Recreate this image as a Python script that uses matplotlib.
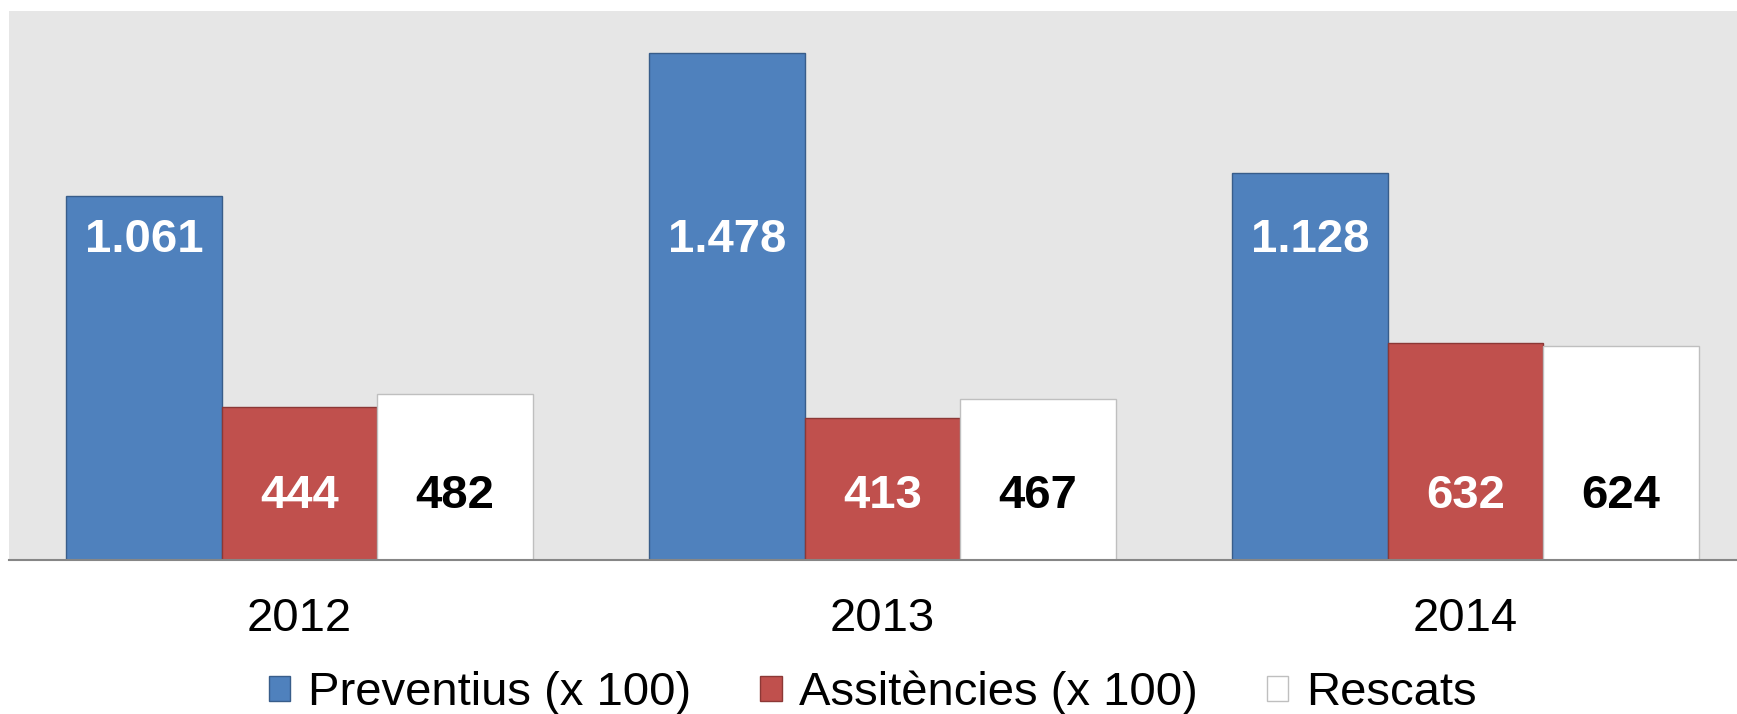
import matplotlib
matplotlib.use("Agg")
import matplotlib.pyplot as plt
import numpy as np
from matplotlib.patches import Patch

plt.rcParams['font.family'] = ['Liberation Sans', 'DejaVu Sans']

years = ["2012", "2013", "2014"]
preventius = [1061, 1478, 1128]      # (x 100)
assistencies = [444, 413, 632]       # (x 100)
rescats = [482, 467, 624]
series_names = ["Preventius (x 100)", "Assitències (x 100)", "Rescats"]

def fmt(v):
    return f"{v:,}".replace(",", ".")

W, H = 1737, 714
fig = plt.figure(figsize=(W / 100, H / 100), dpi=100)
ax_left, ax_right, ax_top, ax_bottom = 9, 1737, 11, 559.5
ax = fig.add_axes([ax_left / W, (H - ax_bottom) / H, (ax_right - ax_left) / W, (ax_bottom - ax_top) / H])
ax.set_facecolor("#E6E6E6")

x = np.arange(len(years))
w = 0.8 / 3
styles = [
    dict(color="#4F81BD", edgecolor="#385D8A"),
    dict(color="#C0504D", edgecolor="#8C3836"),
    dict(color="#FFFFFF", edgecolor="#BFBFBF"),
]
data = [preventius, assistencies, rescats]
label_colors = ["white", "white", "black"]
label_y = [932, 184, 184]

for i, (vals, st) in enumerate(zip(data, styles)):
    xs = x + (i - 1) * w
    ax.bar(xs, vals, width=w, linewidth=1.0, zorder=2, **st)
    for xi, v in zip(xs, vals):
        ax.text(xi, label_y[i], fmt(v), ha="center", va="center",
                fontsize=34, fontweight="bold", color=label_colors[i], zorder=3)

# pixel-aligned limits
px_per_cat = 583.0
c0 = 299.5
ax.set_xlim((ax_left - c0) / px_per_cat, (ax_right - c0) / px_per_cat)
ax.set_ylim(0, 1600)

for s in ["top", "left", "right"]:
    ax.spines[s].set_visible(False)
ax.spines["bottom"].set_color("#868686")
ax.spines["bottom"].set_linewidth(1.5)
ax.spines["bottom"].set_zorder(4)
ax.set_yticks([])
ax.set_xticks(x, years)
ax.tick_params(axis="x", length=0, pad=27, labelsize=34, labelcolor="black")

handles = [Patch(facecolor=st["color"], edgecolor=st["edgecolor"], linewidth=1.0) for st in styles]
fig.legend(handles, series_names, loc="center", bbox_to_anchor=(873 / W, 1 - 693 / H),
           ncol=3, frameon=False, fontsize=34, handlelength=0.45, handleheight=0.45,
           handletextpad=0.38, columnspacing=1.46, borderaxespad=0, borderpad=0)

fig.savefig("out.png", dpi=100, facecolor="white")
